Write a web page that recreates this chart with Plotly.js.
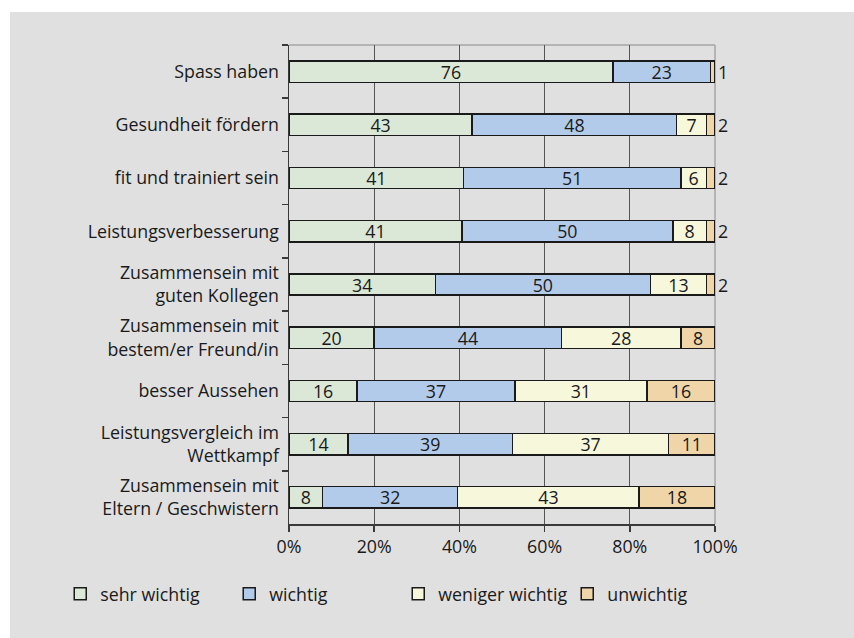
<!DOCTYPE html>
<html>
<head>
<meta charset="utf-8">
<script src="https://cdn.plot.ly/plotly-3.0.1.min.js"></script>
<style>
  html, body { margin: 0; padding: 0; background: #ffffff; width: 854px; height: 638px; overflow: hidden; }
  #chart { position: absolute; left: 10px; top: 12px; width: 844px; height: 626px; }
</style>
</head>
<body>
<div id="chart"></div>
<script>
const categories = [
  "Spass haben",
  "Gesundheit fördern",
  "fit und trainiert sein",
  "Leistungsverbesserung",
  "Zusammensein mit<br>guten Kollegen",
  "Zusammensein mit<br>bestem/er Freund/in",
  "besser Aussehen",
  "Leistungsvergleich im<br>Wettkampf",
  "Zusammensein mit<br>Eltern / Geschwistern"
];
const seriesNames = ["sehr wichtig", "wichtig", "weniger wichtig", "unwichtig"];
const sehrWichtig    = [76, 43, 41, 41, 34, 20, 16, 14, 8];
const wichtig        = [23, 48, 51, 50, 50, 44, 37, 39, 32];
const wenigerWichtig = [0, 7, 6, 8, 13, 28, 31, 37, 43];
const unwichtig      = [1, 2, 2, 2, 2, 8, 16, 11, 18];
const xTickValues = [0, 20, 40, 60, 80, 100];
const xTickLabels = ["0%", "20%", "40%", "60%", "80%", "100%"];

const colors = ["#dbe8d7", "#b3cbea", "#f7f7dc", "#f0d5a8"];
const FONT = "Open Sans, sans-serif";
const TXT = "#1a1a1a";
const SZ = 17.8;

function mk(name, vals, color, positions) {
  return {
    type: "bar",
    orientation: "h",
    name: name,
    x: vals,
    y: categories,
    text: vals.map(v => v > 0 ? String(v) : ""),
    textposition: positions || "inside",
    insidetextanchor: "middle",
    constraintext: "none",
    textangle: 0,
    cliponaxis: false,
    insidetextfont: { family: FONT, size: SZ, color: TXT },
    outsidetextfont: { family: FONT, size: SZ, color: TXT },
    marker: { color: color, line: { color: "#1a1a1a", width: 1.5 } },
    hoverinfo: "skip"
  };
}

const unwPos = unwichtig.map(v => v <= 2 ? "outside" : "inside");

const data = [
  mk(seriesNames[0], sehrWichtig, colors[0]),
  mk(seriesNames[1], wichtig, colors[1]),
  mk(seriesNames[2], wenigerWichtig, colors[2]),
  mk(seriesNames[3], unwichtig, colors[3], unwPos)
];

const layout = {
  width: 844,
  height: 626,
  margin: { l: 279, r: 138.5, t: 33, b: 113.5, pad: 0 },
  paper_bgcolor: "#e0e0e0",
  plot_bgcolor: "#e0e0e0",
  barmode: "stack",
  barnorm: "percent",
  bargap: 0.6,
  font: { family: FONT, size: SZ, color: TXT },
  showlegend: true,
  legend: {
    orientation: "h",
    x: -0.537, xanchor: "left",
    y: -0.108, yanchor: "top",
    entrywidth: 124,
    font: { family: FONT, size: SZ, color: TXT },
    bgcolor: "rgba(0,0,0,0)",
    traceorder: "normal"
  },
  xaxis: {
    range: [0, 100],
    tickmode: "array",
    tickvals: xTickValues,
    ticktext: xTickLabels,
    showgrid: true,
    gridcolor: "#555555",
    gridwidth: 1.2,
    zeroline: false,
    showline: true,
    linecolor: "#3a3a3a",
    linewidth: 1.5,
    ticks: "outside",
    ticklen: 6,
    tickcolor: "#3a3a3a",
    tickwidth: 1.5,
    tickfont: { family: FONT, size: SZ, color: TXT },
    fixedrange: true
  },
  yaxis: {
    type: "category",
    range: [8.5, -0.5],
    tickson: "boundaries",
    ticks: "outside",
    ticklen: 6,
    tickcolor: "#3a3a3a",
    tickwidth: 1.5,
    ticklabelstandoff: 5,
    showline: true,
    linecolor: "#3a3a3a",
    linewidth: 1.5,
    showgrid: false,
    zeroline: false,
    tickfont: { family: FONT, size: SZ, color: TXT },
    fixedrange: true
  },
  shapes: [
    { type: "line", xref: "paper", yref: "paper", x0: 0, x1: 1, y0: 1, y1: 1,
      line: { color: "#a6a6a6", width: 1.5 }, layer: "between" },
    { type: "line", xref: "paper", yref: "paper", x0: 1, x1: 1, y0: 0, y1: 1,
      line: { color: "#a6a6a6", width: 1.5 }, layer: "between" }
  ]
};

Plotly.newPlot("chart", data, layout, { displayModeBar: false, staticPlot: true });
</script>
</body>
</html>
